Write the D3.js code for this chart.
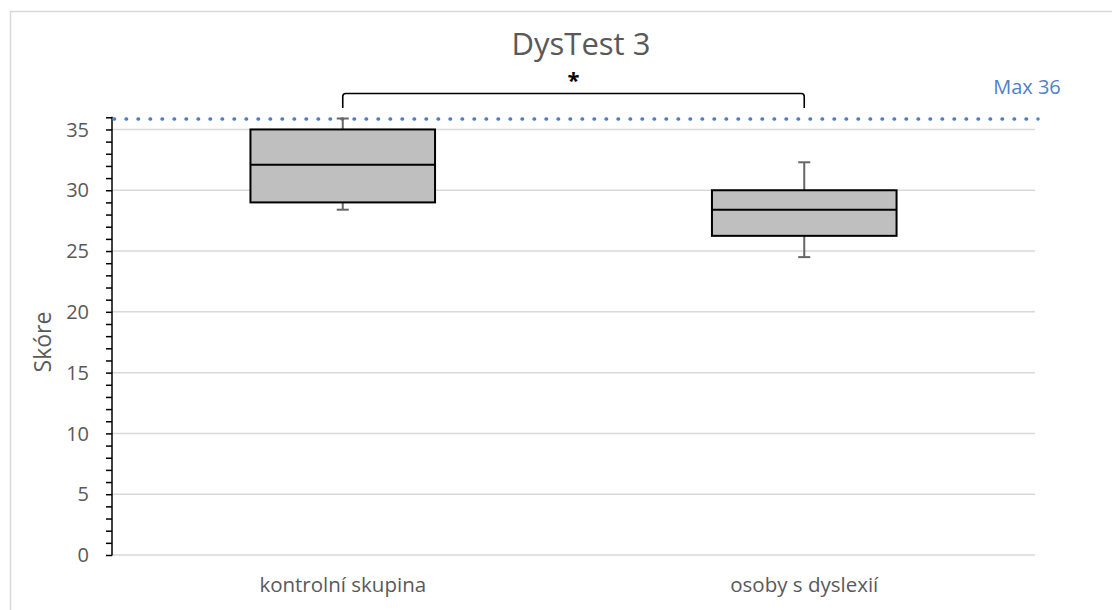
<!DOCTYPE html>
<html><head><meta charset="utf-8">
<script src="https://cdn.jsdelivr.net/npm/d3@7"></script>
<style>body{margin:0;background:#fff}svg{display:block}</style>
</head><body>
<svg id="c" width="1112" height="610"></svg>
<script>
const categories = ["kontrolní skupina", "osoby s dyslexií"];
const mins    = [28.4, 24.5];
const q1s     = [29.0, 26.25];
const medians = [32.1, 28.4];
const q3s     = [35.0, 30.0];
const maxs    = [35.9, 32.3];
const yTicks  = [0, 5, 10, 15, 20, 25, 30, 35];
const maxScore = 36;
const title = "DysTest 3";
const yLabel = "Skóre";
const maxLabel = "Max 36";

const svg = d3.select("#c");
const font = "'Open Sans', sans-serif";
const L = 112, R = 1035, T = 117.3, B = 555;

// frame
svg.append("path").attr("d", `M10.5,620 V11.5 H1120`).attr("fill","none").attr("stroke","#d9d9d9").attr("stroke-width",1.5);

const x = d3.scaleBand().domain(categories).range([L, R]).padding(0);
const y = d3.scaleLinear().domain([0, maxScore]).range([B, T]);

// gridlines
svg.append("g").selectAll("line").data(yTicks).join("line")
  .attr("x1", L).attr("x2", R).attr("y1", d => y(d)).attr("y2", d => y(d))
  .attr("stroke", "#d9d9d9").attr("stroke-width", 1.5);

// y axis
const minor = d3.range(0, maxScore + 1, 1);
const ax = svg.append("g").attr("transform", `translate(${L},0)`)
  .call(d3.axisLeft(y).tickValues(minor).tickSize(6).tickFormat(""));
ax.select(".domain").attr("stroke", "#000").attr("stroke-width", 1.5).attr("d", `M0,${B + 0.5}V${y(maxScore) - 0.5}`);
ax.selectAll(".tick line").attr("stroke", "#000").attr("stroke-width", 1.5);

svg.append("g").selectAll("text").data(yTicks).join("text")
  .attr("x", 89).attr("y", d => y(d)).attr("dy", "0.36em")
  .attr("text-anchor", "end").attr("font-family", font).attr("font-size", 20)
  .attr("fill", "#595959").text(d => d);

// max dotted line
svg.append("line").attr("x1", L + 2).attr("x2", R + 3).attr("y1", 119).attr("y2", 119)
  .attr("stroke", "#4f81c7").attr("stroke-width", 3.5).attr("stroke-linecap", "round")
  .attr("stroke-dasharray", "0.6 11.4");
svg.append("text").attr("x", 1027).attr("y", 94).attr("text-anchor", "middle")
  .attr("font-family", font).attr("font-size", 20).attr("fill", "#4f81c7").text(maxLabel);

// boxes
const bw = x.bandwidth() * 0.4;
const g = svg.append("g").selectAll("g").data(categories).join("g")
  .attr("transform", d => `translate(${x(d) + x.bandwidth() / 2},0)`);

g.append("line").attr("x1", 0).attr("x2", 0)
  .attr("y1", (d, i) => y(maxs[i])).attr("y2", (d, i) => y(q3s[i]))
  .attr("stroke", "#666").attr("stroke-width", 2);
g.append("line").attr("x1", 0).attr("x2", 0)
  .attr("y1", (d, i) => y(mins[i])).attr("y2", (d, i) => y(q1s[i]))
  .attr("stroke", "#666").attr("stroke-width", 2);
g.append("line").attr("x1", -6).attr("x2", 6)
  .attr("y1", (d, i) => y(maxs[i])).attr("y2", (d, i) => y(maxs[i]))
  .attr("stroke", "#666").attr("stroke-width", 2);
g.append("line").attr("x1", -6).attr("x2", 6)
  .attr("y1", (d, i) => y(mins[i])).attr("y2", (d, i) => y(mins[i]))
  .attr("stroke", "#666").attr("stroke-width", 2);
g.append("rect").attr("x", -bw / 2).attr("width", bw)
  .attr("y", (d, i) => y(q3s[i])).attr("height", (d, i) => y(q1s[i]) - y(q3s[i]))
  .attr("fill", "#bfbfbf").attr("stroke", "#000").attr("stroke-width", 2);
g.append("line").attr("x1", -bw / 2).attr("x2", bw / 2)
  .attr("y1", (d, i) => y(medians[i])).attr("y2", (d, i) => y(medians[i]))
  .attr("stroke", "#000").attr("stroke-width", 2);

// category labels
svg.append("g").selectAll("text").data(categories).join("text")
  .attr("x", d => x(d) + x.bandwidth() / 2).attr("y", 592)
  .attr("text-anchor", "middle").attr("font-family", font).attr("font-size", 20.5)
  .attr("fill", "#595959").text(d => d);

// title
svg.append("text").attr("x", 581).attr("y", 55).attr("text-anchor", "middle")
  .attr("font-family", font).attr("font-size", 31).attr("fill", "#595959").text(title);

// y label
svg.append("text").attr("transform", "translate(51,342) rotate(-90)").attr("text-anchor", "middle")
  .attr("font-family", font).attr("font-size", 23).attr("fill", "#595959").text(yLabel);

// significance bracket
const x1 = x(categories[0]) + x.bandwidth() / 2, x2 = x(categories[1]) + x.bandwidth() / 2;
const r = 3, yb = 108, yt = 93.5;
svg.append("path").attr("d", `M${x1},${yb} V${yt + r} Q${x1},${yt} ${x1 + r},${yt} H${x2 - r} Q${x2},${yt} ${x2},${yt + r} V${yb}`)
  .attr("fill", "none").attr("stroke", "#000").attr("stroke-width", 1.6);
svg.append("text").attr("x", (x1 + x2) / 2).attr("y", 88).attr("text-anchor", "middle")
  .attr("font-family", font).attr("font-size", 22).attr("font-weight", "bold").attr("fill", "#000").text("*");
</script>
</body></html>
